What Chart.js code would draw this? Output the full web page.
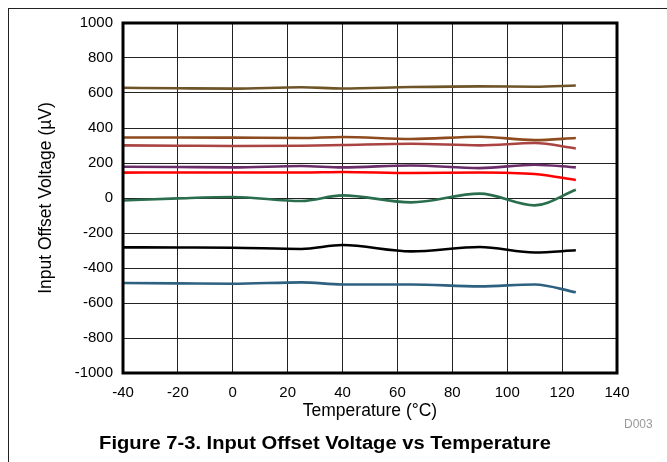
<!DOCTYPE html>
<html>
<head>
<meta charset="utf-8">
<script src="https://cdn.jsdelivr.net/npm/chart.js@4"></script>
<style>
  body { margin: 0; background: #fff; }
  #wrap { position: relative; width: 667px; height: 462px; overflow: hidden; font-family: 'Liberation Sans', Arial, sans-serif; }
  #frame { position: absolute; left: 8px; top: 8px; width: 700px; height: 500px; border-left: 1px solid #222; border-top: 1px solid #222; }
  #caption { position: absolute; left: 0; width: 650px; top: 433px; text-align: center; font-weight: bold; font-size: 18px; color: #000; transform: scaleX(1.12); transform-origin: 325px 0; }
  #code { position: absolute; left: 624px; top: 417px; font-size: 12px; color: #999; }
  canvas { position: absolute; left: 0; top: 0; }
</style>
</head>
<body>
<div id="wrap">
  <canvas id="chart" width="667" height="462"></canvas>
  <div id="frame"></div>
  <div id="code">D003</div>
  <div id="caption">Figure 7-3. Input Offset Voltage vs Temperature</div>
</div>
<script>
// temperature points (°C)
const temps = [-40, -20, 0, 25, 40, 65, 90, 110, 125];

// input offset voltage per unit (µV)
const unit1 = [630, 627, 625, 633, 626, 634, 638, 636, 643];
const unit2 = [346, 346, 345, 343, 349, 337, 350, 331, 343];
const unit3 = [301, 299, 297, 299, 303, 310, 301, 314, 283];
const unit4 = [179, 177, 175, 183, 175, 186, 171, 190, 175];
const unit5 = [145, 146, 146, 146, 149, 143, 146, 137, 103];
const unit6 = [-14, -2, 6, -17, 15, -25, 25, -42, 47];
const unit7 = [-282, -283, -284, -291, -269, -305, -280, -311, -299];
const unit8 = [-486, -488, -490, -482, -494, -494, -505, -494, -539];

const units = [unit1, unit2, unit3, unit4, unit5, unit6, unit7, unit8];
const colors = ['#6F5428', '#8E4B1F', '#A94442', '#6A2D68', '#FF0000', '#2B6E4E', '#000000', '#2E6180'];

const xTicks = { min: -40, max: 140, step: 20 };
const yTicks = { min: -1000, max: 1000, step: 200 };

const font = { family: "'Liberation Sans', Arial, sans-serif", size: 15 };
const titleFont = { family: "'Liberation Sans', Arial, sans-serif", size: 17.5 };

// thick box around the plot area
const plotBorder = {
  id: 'plotBorder',
  afterDraw(chart) {
    const { ctx, chartArea: a } = chart;
    ctx.save();
    ctx.strokeStyle = '#000';
    ctx.lineWidth = 3;
    ctx.strokeRect(a.left, a.top, a.right - a.left, a.bottom - a.top);
    ctx.restore();
  }
};

new Chart(document.getElementById('chart'), {
  type: 'line',
  data: {
    datasets: units.map((u, i) => ({
      data: u.map((v, j) => ({ x: temps[j], y: v })),
      borderColor: colors[i],
      borderWidth: 2.6,
      pointRadius: 0,
      fill: false,
      cubicInterpolationMode: 'monotone'
    }))
  },
  options: {
    responsive: false,
    animation: false,
    devicePixelRatio: 1,
    layout: { padding: { top: 23, right: 50, bottom: 40, left: 28 } },
    plugins: { legend: { display: false }, tooltip: { enabled: false } },
    scales: {
      x: {
        type: 'linear',
        min: xTicks.min,
        max: xTicks.max,
        afterFit: s => { s.height = 49; },
        ticks: { stepSize: xTicks.step, color: '#000', font: font, padding: 11, maxRotation: 0, callback: v => String(v) },
        grid: { color: '#222', lineWidth: 1, drawTicks: false },
        border: { display: false },
        title: { display: true, text: 'Temperature (°C)', color: '#000', font: titleFont, padding: { top: 0, bottom: 0 } }
      },
      y: {
        min: yTicks.min,
        max: yTicks.max,
        afterFit: s => { s.width = 95; },
        ticks: { stepSize: yTicks.step, color: '#000', font: font, padding: 10, callback: v => String(v) },
        grid: { color: '#222', lineWidth: 1, drawTicks: false },
        border: { display: false },
        title: { display: true, text: 'Input Offset Voltage (µV)', color: '#000', font: titleFont, padding: { top: 8, bottom: 0 } }
      }
    }
  },
  plugins: [plotBorder]
});
</script>
</body>
</html>
